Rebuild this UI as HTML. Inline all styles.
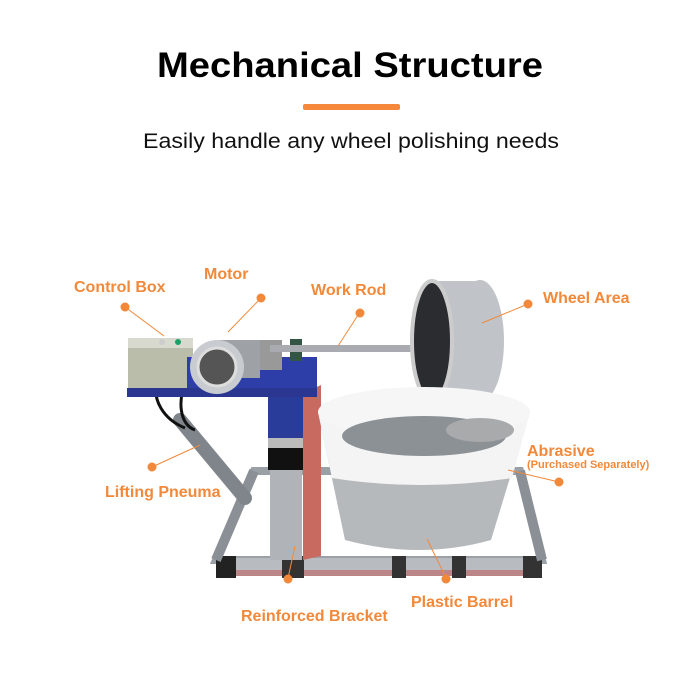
<!DOCTYPE html>
<html><head><meta charset="utf-8"><style>
html,body{margin:0;padding:0;background:#fff;}
svg{display:block;}
.l{font-family:"Liberation Sans",sans-serif;font-weight:bold;fill:#f2893a;}
</style></head><body>
<svg width="700" height="700" viewBox="0 0 700 700" xmlns="http://www.w3.org/2000/svg">
<rect width="700" height="700" fill="#fff"/>
<text x="350" y="77" text-anchor="middle" font-family="Liberation Sans,sans-serif" font-weight="bold" font-size="35" fill="#000" textLength="386" lengthAdjust="spacingAndGlyphs">Mechanical Structure</text>
<rect x="303" y="104" width="97" height="6" rx="2" fill="#f5883a"/>
<text x="351" y="148" text-anchor="middle" font-family="Liberation Sans,sans-serif" font-size="21" fill="#111" textLength="416" lengthAdjust="spacingAndGlyphs">Easily handle any wheel polishing needs</text>

<!-- frame -->
<g>
<polygon points="254,471 520,471 542,560 216,560" fill="none" stroke="#9aa0a6" stroke-width="8"/>
<rect x="216" y="558" width="326" height="18" fill="#b8bcc0"/>
<rect x="216" y="570" width="326" height="6" fill="#c05050" opacity="0.5"/>
<rect x="216" y="556" width="20" height="22" fill="#222"/>
<rect x="282" y="556" width="22" height="22" fill="#333"/>
<rect x="392" y="556" width="14" height="22" fill="#333"/>
<rect x="452" y="556" width="14" height="22" fill="#333"/>
<rect x="523" y="556" width="19" height="22" fill="#333"/>
<line x1="254" y1="471" x2="216" y2="560" stroke="#8a9096" stroke-width="10"/>
<line x1="520" y1="471" x2="542" y2="560" stroke="#8a9096" stroke-width="10"/>
<!-- column -->
<rect x="268" y="393" width="35" height="45" fill="#2a3c9a"/>
<rect x="268" y="438" width="35" height="10" fill="#bbb"/>
<rect x="268" y="448" width="35" height="22" fill="#111"/>
<rect x="270" y="470" width="32" height="90" fill="#b0b4b8"/>
<polygon points="303,393 321,385 321,556 303,560" fill="#c86a60"/>
</g>
<!-- cylinder -->
<line x1="180" y1="420" x2="245" y2="498" stroke="#7f858a" stroke-width="14" stroke-linecap="round"/>
<path d="M158 378 C150 400 165 420 185 428" fill="none" stroke="#111" stroke-width="3"/>
<path d="M188 378 C176 400 180 425 195 430" fill="none" stroke="#111" stroke-width="3"/>
<!-- control box & plate -->
<rect x="128" y="338" width="65" height="55" fill="#b9bda9"/>
<rect x="128" y="338" width="65" height="10" fill="#d8dad0"/>
<circle cx="162" cy="342" r="3" fill="#ccc"/><circle cx="178" cy="342" r="3" fill="#1ca06a"/>
<rect x="187" y="357" width="130" height="36" fill="#2e3ea8"/>
<rect x="127" y="388" width="190" height="9" fill="#2a3690"/>
<!-- motor -->
<rect x="215" y="340" width="45" height="38" fill="#9ea2a6"/>
<circle cx="217" cy="367" r="27" fill="#c8ccd0"/>
<circle cx="217" cy="367" r="19" fill="#555" stroke="#ddd" stroke-width="3"/>
<rect x="260" y="340" width="22" height="30" fill="#999"/>
<rect x="290" y="339" width="12" height="22" fill="#335544"/>
<!-- rod -->
<rect x="270" y="345" width="175" height="7" fill="#a8acb0"/>
<!-- wheel -->
<ellipse cx="480" cy="341" rx="24" ry="61" fill="#c0c4c8"/>
<rect x="432" y="281" width="48" height="121" fill="#c0c4c8"/>
<ellipse cx="432" cy="341" rx="20" ry="60" fill="#2a2c30"/>
<ellipse cx="432" cy="341" rx="20" ry="60" fill="none" stroke="#ccc" stroke-width="4"/>
<!-- barrel -->
<path d="M318 412 L345 540 Q420 560 491 540 L530 412 Z" fill="#b6b9bc"/>
<path d="M318 412 L332 478 Q420 492 512 478 L530 412 Z" fill="#f4f4f4"/>
<ellipse cx="424" cy="412" rx="106" ry="25" fill="#f6f6f6"/>
<ellipse cx="424" cy="436" rx="82" ry="20" fill="#8c9196"/>
<ellipse cx="480" cy="430" rx="34" ry="12" fill="#a8aaac"/>

<!-- leader lines -->
<g stroke="#f2893a" stroke-width="1" fill="#f2893a">
<line x1="125" y1="307" x2="164" y2="336"/><circle cx="125" cy="307" r="4.5" stroke="none"/>
<line x1="261" y1="298" x2="228" y2="332"/><circle cx="261" cy="298" r="4.5" stroke="none"/>
<line x1="360" y1="312" x2="338" y2="346"/><circle cx="360" cy="313" r="4.5" stroke="none"/>
<line x1="528" y1="304" x2="482" y2="323"/><circle cx="528" cy="304" r="4.5" stroke="none"/>
<line x1="559" y1="482" x2="508" y2="470"/><circle cx="559" cy="482" r="4.5" stroke="none"/>
<line x1="152" y1="467" x2="200" y2="445"/><circle cx="152" cy="467" r="4.5" stroke="none"/>
<line x1="288" y1="578" x2="295" y2="546"/><circle cx="288" cy="579" r="4.5" stroke="none"/>
<line x1="446" y1="578" x2="427" y2="539"/><circle cx="446" cy="579" r="4.5" stroke="none"/>
</g>
<text class="l" x="74" y="292" font-size="16">Control Box</text>
<text class="l" x="204" y="279" font-size="16">Motor</text>
<text class="l" x="311" y="295" font-size="16">Work Rod</text>
<text class="l" x="543" y="303" font-size="16">Wheel Area</text>
<text class="l" x="527" y="456" font-size="16">Abrasive</text>
<text class="l" x="527" y="468" font-size="11">(Purchased Separately)</text>
<text class="l" x="105" y="497" font-size="16">Lifting Pneuma</text>
<text class="l" x="241" y="621" font-size="16">Reinforced Bracket</text>
<text class="l" x="411" y="607" font-size="16">Plastic Barrel</text>
</svg>
</body></html>
